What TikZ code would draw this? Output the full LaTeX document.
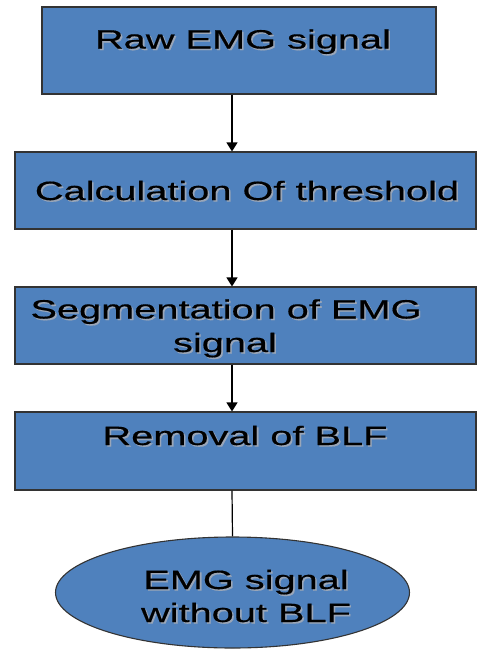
\documentclass[tikz,border=0pt]{standalone}
\usepackage{fontspec}
\setmainfont[FakeStretch=1.5,FakeBold=0.4]{Liberation Sans}
\usetikzlibrary{shapes.geometric,arrows.meta}
\definecolor{boxblue}{HTML}{4F81BD}
\definecolor{shadowgray}{HTML}{9AA6B8}
\newcommand\shtxt[1]{\makebox[0pt][l]{\hspace{1.6pt}\raisebox{-1.6pt}{\textcolor{shadowgray}{#1}}}#1}
\tikzset{
  stepbox/.style={draw=black!80, line width=1.1pt, fill=boxblue, rectangle, inner sep=0pt},
  endoval/.style={draw=black!80, line width=1.1pt, fill=boxblue, ellipse, inner sep=0pt},
  lbl/.style={anchor=base, inner sep=0pt, font=\fontsize{26.5}{33}\selectfont, text=black},
  conn/.style={line width=1.2pt, black},
  arr/.style={conn, -{Triangle[width=11pt,length=9pt]}}
}
\begin{document}
\begin{tikzpicture}[x=1pt,y=-1pt]
\useasboundingbox (0,0) rectangle (477,649);
% boxes
\node[stepbox, minimum width=394pt, minimum height=87pt] (b1) at (239,50.5) {};
\node[stepbox, minimum width=461pt, minimum height=77pt] (b2) at (245.5,190.5) {};
\node[stepbox, minimum width=461pt, minimum height=77pt] (b3) at (245.5,325.5) {};
\node[stepbox, minimum width=461pt, minimum height=78pt] (b4) at (245.5,451) {};
\node[endoval, minimum width=354pt, minimum height=111pt] (e5) at (232.5,592.5) {};
% texts
\node[lbl] (t1) at (243,48.5) {\shtxt{Raw EMG signal}};
\node[lbl] (t2) at (247,200) {\shtxt{Calculation Of threshold}};
\node[lbl] (t3a) at (226,318.5) {\shtxt{Segmentation of EMG}};
\node[lbl] (t3b) at (225,352) {\shtxt{signal}};
\node[lbl] (t4) at (245,445) {\shtxt{Removal of BLF}};
\node[lbl] (t5a) at (246,589) {\shtxt{EMG signal}};
\node[lbl] (t5b) at (246,622) {\shtxt{without BLF}};
% connectors
\coordinate (ax) at (232,0);
\draw[arr] (b1.south -| ax) -- (b2.north -| ax);
\draw[arr] (b2.south -| ax) -- (b3.north -| ax);
\draw[arr] (b3.south -| ax) -- (b4.north -| ax);
\draw[conn] (b4.south -| ax) -- (e5.north);
\end{tikzpicture}
\end{document}
